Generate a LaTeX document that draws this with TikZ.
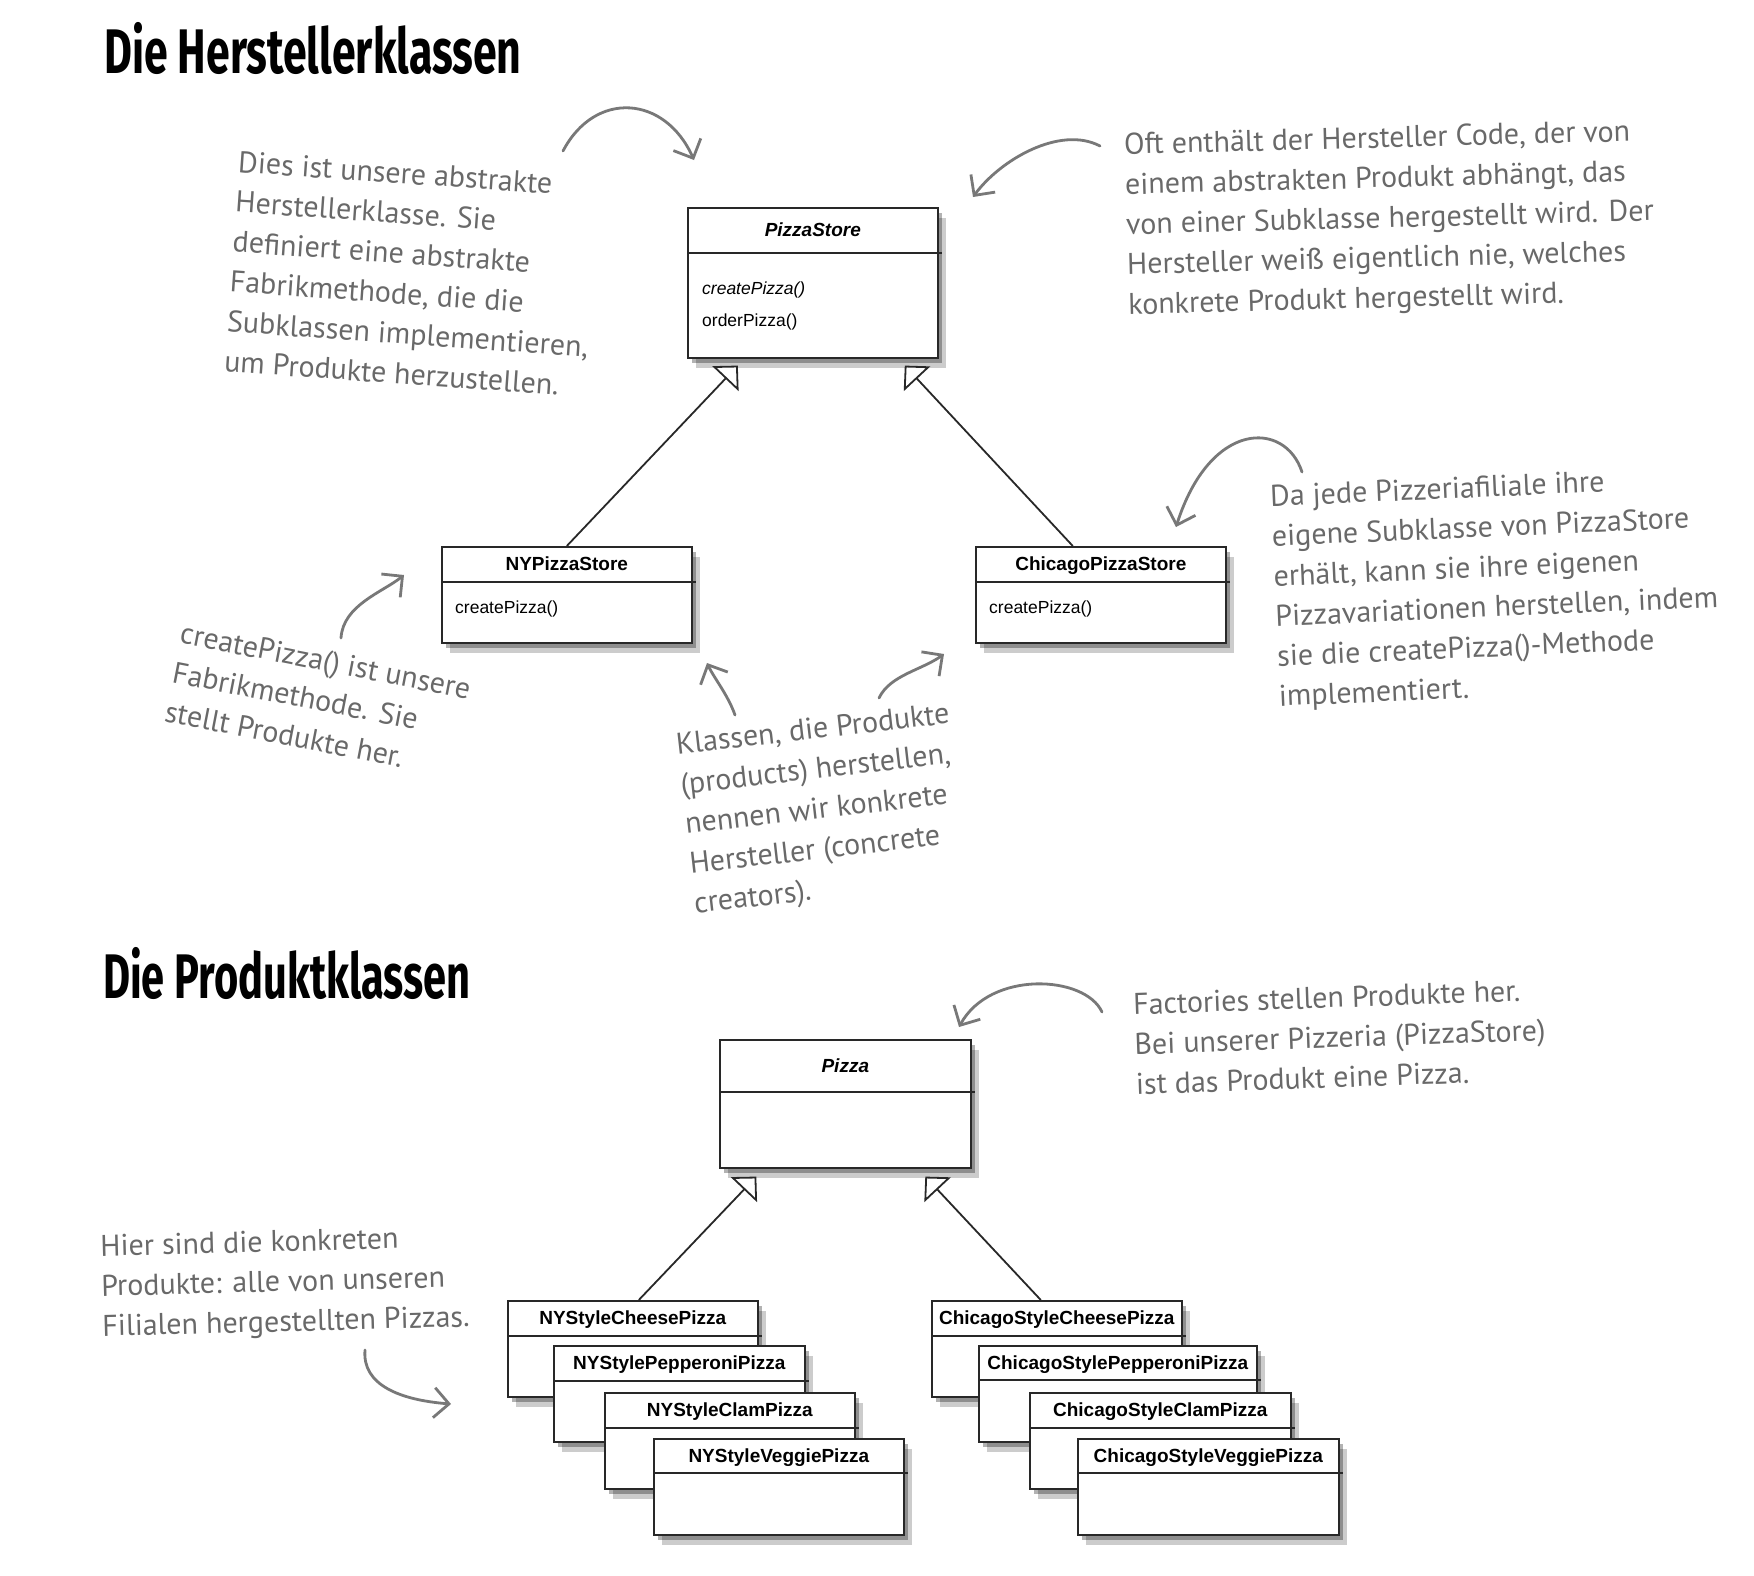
\documentclass[tikz,border=0pt]{standalone}
\usepackage{fontspec}
\usepackage{graphicx}
\usepackage{xcolor}
\usepackage{tikz}
\usetikzlibrary{arrows.meta}
\usetikzlibrary{shadows}
\setmainfont{PT Sans}
\newfontfamily\umlfont{Liberation Sans}
\newfontfamily\titelfont{Fira Sans}
\definecolor{NotizGrau}{RGB}{105,105,105}
\definecolor{PfeilGrau}{RGB}{120,120,120}
\definecolor{RahmenGrau}{RGB}{40,40,40}
\tikzset{
    klasse/.style={draw=RahmenGrau, line width=1.6pt, fill=white, anchor=north west, inner sep=0pt,
        drop shadow={shadow xshift=4pt, shadow yshift=-5pt, opacity=0.3, fill=black},
        drop shadow={shadow xshift=8pt, shadow yshift=-10pt, opacity=0.2, fill=black}},
    trenner/.style={draw=RahmenGrau, line width=1.6pt},
    kname/.style={font=\umlfont\fontsize{19}{22}\selectfont\bfseries, inner sep=0pt,
        text height=13.5pt, text depth=0pt},
    methode/.style={font=\umlfont\fontsize{17.5}{20}\selectfont, anchor=west, inner sep=0pt,
        text height=12.5pt, text depth=0pt},
    erbt/.style={draw=RahmenGrau, line width=1.8pt, -{Triangle[open, length=18pt, width=36pt, fill=white]}},
    notiz/.style={text=NotizGrau, font=\fontsize{30}{40}\selectfont, align=left, inner sep=0pt},
    hinweis/.style={draw=PfeilGrau, line width=2.8pt, line cap=round, -{Straight Barb[length=15pt, width=30pt]}},
    ueberschrift/.style={font=\titelfont\bfseries\fontsize{63}{66}\selectfont, anchor=base west, inner sep=0pt}
}
% name, links, oben, breite, hoehe, kopfhoehe, titel
\newcommand{\umlklasse}[7]{%
    \node[klasse, minimum width=#4pt, minimum height=#5pt] (#1) at (#2,#3) {};
    \draw[trenner] ([yshift=-#6pt]#1.north west) -- ([yshift=-#6pt, xshift=3pt]#1.north east);
    \node[kname] (#1-name) at ([yshift=-#6pt/2]#1.north) {#7};
}

\begin{document}
\begin{tikzpicture}[x=1pt, y=-1pt]
    \fill[white] (0,0) rectangle (1754,1575);
    % Ueberschriften
    \node[ueberschrift] (titel-hersteller) at (104,73) {\scalebox{0.68}[1]{Die Herstellerklassen}};
    \node[ueberschrift] (titel-produkte) at (103,998) {\scalebox{0.66}[1]{Die Produktklassen}};

    % Herstellerklassen
    \umlklasse{pizzastore}{687}{207}{250}{150}{46}{\itshape PizzaStore}
    \node[methode] (pizzastore-create) at (702,288) {\itshape createPizza()};
    \node[methode] (pizzastore-order) at (702,320) {orderPizza()};
    \umlklasse{nystore}{441}{546}{250}{96}{36}{NYPizzaStore}
    \node[methode] (nystore-create) at (455,607) {createPizza()};
    \umlklasse{chicagostore}{975}{546}{250}{96}{36}{ChicagoPizzaStore}
    \node[methode] (chicagostore-create) at (989,607) {createPizza()};

    % Produktklassen
    \umlklasse{pizza}{719}{1039}{251}{128}{53}{\itshape Pizza}
    \umlklasse{nycheese}{507}{1300}{250}{96}{36}{NYStyleCheesePizza}
    \umlklasse{nypepperoni}{553}{1345}{251}{96}{36}{NYStylePepperoniPizza}
    \umlklasse{nyclam}{604}{1392}{250}{96}{36}{NYStyleClamPizza}
    \umlklasse{nyveggie}{653}{1438}{250}{96}{35}{NYStyleVeggiePizza}
    \umlklasse{chcheese}{931}{1300}{250}{96}{36}{ChicagoStyleCheesePizza}
    \umlklasse{chpepperoni}{978}{1345}{278}{96}{35}{ChicagoStylePepperoniPizza}
    \umlklasse{chclam}{1029}{1392}{261}{96}{36}{ChicagoStyleClamPizza}
    \umlklasse{chveggie}{1077}{1438}{261}{96}{35}{ChicagoStyleVeggiePizza}

    % Vererbung
    \draw[erbt] (nystore.north) -- ([xshift=-75pt, yshift=-7pt]pizzastore.south);
    \draw[erbt] ([xshift=-28pt]chicagostore.north) -- ([xshift=92pt, yshift=-7pt]pizzastore.south);
    \draw[erbt] ([xshift=6pt]nycheese.north) -- ([xshift=-89pt, yshift=-8pt]pizza.south);
    \draw[erbt] ([xshift=-16pt]chcheese.north) -- ([xshift=80pt, yshift=-8pt]pizza.south);

    % Notizen
    \node[notiz, rotate=-4] (notiz-abstrakt) at (412,274)
        {Dies ist unsere abstrakte\\Herstellerklasse. Sie\\definiert eine abstrakte\\Fabrikmethode, die die\\Subklassen implementieren,\\um Produkte herzustellen.};
    \node[notiz, rotate=1.5] (notiz-code) at (1390,220)
        {Oft enthält der Hersteller Code, der von\\einem abstrakten Produkt abhängt, das\\von einer Subklasse hergestellt wird. Der\\Hersteller weiß eigentlich nie, welches\\konkrete Produkt hergestellt wird.};
    \node[notiz, rotate=2.5] (notiz-filiale) at (1496,589)
        {Da jede Pizzeriafiliale ihre\\eigene Subklasse von PizzaStore\\erhält, kann sie ihre eigenen\\Pizzavariationen herstellen, indem\\sie die createPizza()-Methode\\implementiert.};
    \node[notiz, rotate=-11] (notiz-fabrik) at (318,700)
        {createPizza() ist unsere\\Fabrikmethode. Sie\\stellt Produkte her.};
    \node[notiz, rotate=6.5] (notiz-konkret) at (822,811)
        {Klassen, die Produkte\\(products) herstellen,\\nennen wir konkrete\\Hersteller (concrete\\creators).};
    \node[notiz, rotate=2] (notiz-factories) at (1340,1037)
        {Factories stellen Produkte her.\\Bei unserer Pizzeria (PizzaStore)\\ist das Produkt eine Pizza.};
    \node[notiz, rotate=1.5] (notiz-pizzas) at (285,1284)
        {Hier sind die konkreten\\Produkte: alle von unseren\\Filialen hergestellten Pizzas.};

    % Hinweispfeile
    \coordinate (h1-a) at (563,151);   \coordinate (h1-b) at (694,160);
    \coordinate (h2-a) at (1100,146);  \coordinate (h2-b) at (973,197);
    \coordinate (h3-a) at (1302,472);  \coordinate (h3-b) at (1176,527);
    \coordinate (h4-a) at (341,638);   \coordinate (h4-b) at (404,575);
    \coordinate (h5-a) at (735,715);   \coordinate (h5-b) at (707,663);
    \coordinate (h6-a) at (879,698);   \coordinate (h6-b) at (944,654);
    \coordinate (h7-a) at (1102,1012); \coordinate (h7-b) at (959,1027);
    \coordinate (h8-a) at (365,1350);  \coordinate (h8-b) at (451,1404);
    \draw[hinweis] (h1-a) .. controls (595,90) and (665,95) .. (h1-b);
    \draw[hinweis] (h2-a) .. controls (1060,125) and (1000,160) .. (h2-b);
    \draw[hinweis] (h3-a) .. controls (1285,420) and (1210,420) .. (h3-b);
    \draw[hinweis] (h4-a) .. controls (343,605) and (383,592) .. (h4-b);
    \draw[hinweis] (h5-a) .. controls (728,695) and (714,678) .. (h5-b);
    \draw[hinweis] (h6-a) .. controls (890,675) and (922,670) .. (h6-b);
    \draw[hinweis] (h7-a) .. controls (1085,975) and (990,970) .. (h7-b);
    \draw[hinweis] (h8-a) .. controls (362,1385) and (400,1400) .. (h8-b);
\end{tikzpicture}
\end{document}
